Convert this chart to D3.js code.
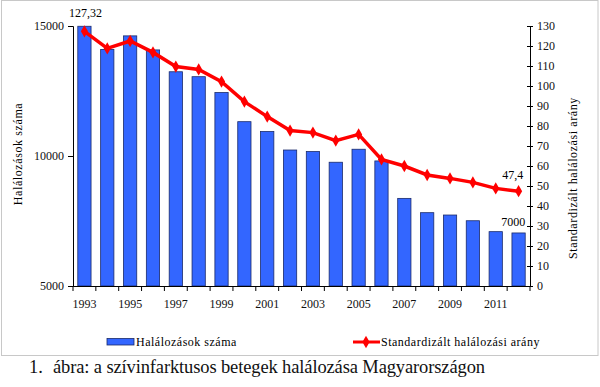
<!DOCTYPE html>
<html>
<head>
<meta charset="utf-8">
<script src="https://cdn.jsdelivr.net/npm/d3@7"></script>
<style>
  body { margin: 0; background: #fff; }
  svg text { font-family: "Liberation Serif", "Times New Roman", serif; }
</style>
</head>
<body>
<script>
// years and values
const years = d3.range(1993, 2013);
const deaths = [14990, 14100, 14620, 14080, 13240, 13050, 12440, 11320, 10940, 10230,
                10170, 9760, 10260, 9810, 8370, 7820, 7730, 7510, 7090, 7040];
const rate = [127.32, 118.8, 122.5, 116.8, 109.7, 108.3, 102.2, 92.2, 84.7, 77.7,
              76.7, 72.7, 75.8, 63.3, 60.0, 55.5, 53.8, 51.8, 48.8, 47.4];
const leftTicks = [5000, 10000, 15000];
const rightTicks = d3.range(0, 131, 10);
const yearLabels = years.filter(y => y % 2 === 1);

const width = 600, height = 387;
const svg = d3.select('body').append('svg')
    .attr('width', width)
    .attr('height', height);

// chart frame
svg.append('rect')
    .attr('x', 1.5).attr('y', 0.5)
    .attr('width', 596.5).attr('height', 355)
    .attr('fill', 'none')
    .attr('stroke', '#c8c8c8');

const plotL = 73, plotR = 530, plotT = 26, plotB = 286;

const x = d3.scaleBand()
    .domain(years)
    .range([plotL, plotR])
    .paddingInner(0.42)
    .paddingOuter(0.21);

const yL = d3.scaleLinear().domain([5000, 15000]).range([plotB, plotT]);
const yR = d3.scaleLinear().domain([0, 130]).range([plotB, plotT]);

// bars
svg.append('g')
    .selectAll('rect')
    .data(years)
    .enter().append('rect')
    .attr('x', d => x(d))
    .attr('y', (d, i) => yL(deaths[i]))
    .attr('width', x.bandwidth())
    .attr('height', (d, i) => plotB - yL(deaths[i]))
    .attr('fill', '#3366ff')
    .attr('stroke', '#1a2a6a')
    .attr('stroke-width', 0.8);

// left axis
const axL = svg.append('g')
    .attr('transform', `translate(${plotL},0)`)
    .call(d3.axisLeft(yL).tickValues(leftTicks).tickSize(5).tickPadding(4).tickFormat(d3.format('d')));
axL.selectAll('text').attr('font-size', 12).attr('fill', '#111');

// right axis, ticks cross the line
const axR = svg.append('g')
    .attr('transform', `translate(${plotR},0)`)
    .call(d3.axisRight(yR).tickValues(rightTicks).tickSize(3).tickPadding(4));
axR.selectAll('.tick line').attr('x1', -3);
axR.selectAll('text').attr('font-size', 12).attr('fill', '#111');

// bottom axis with ticks between bars
const step = x.step();
const edge0 = x(years[0]) - (step - x.bandwidth()) / 2;
const xAxisG = svg.append('g');
xAxisG.append('line')
    .attr('x1', plotL).attr('x2', plotR)
    .attr('y1', plotB + 0.5).attr('y2', plotB + 0.5)
    .attr('stroke', '#000');
xAxisG.selectAll('line.tk')
    .data(d3.range(years.length + 1))
    .enter().append('line')
    .attr('class', 'tk')
    .attr('x1', i => edge0 + i * step)
    .attr('x2', i => edge0 + i * step)
    .attr('y1', plotB)
    .attr('y2', plotB + 5)
    .attr('stroke', '#000');
xAxisG.selectAll('text')
    .data(yearLabels)
    .enter().append('text')
    .attr('x', d => x(d) + x.bandwidth() / 2)
    .attr('y', 308)
    .attr('text-anchor', 'middle')
    .attr('font-size', 12)
    .attr('fill', '#111')
    .text(d => d);

// rate line
const line = d3.line()
    .x((d, i) => x(years[i]) + x.bandwidth() / 2)
    .y(d => yR(d));
svg.append('path')
    .datum(rate)
    .attr('d', line)
    .attr('fill', 'none')
    .attr('stroke', '#ff0000')
    .attr('stroke-width', 3.5);

const diamond = d3.symbol().type(d3.symbolDiamond).size(44);
svg.append('g')
    .selectAll('path')
    .data(rate)
    .enter().append('path')
    .attr('d', diamond)
    .attr('transform', (d, i) => `translate(${x(years[i]) + x.bandwidth() / 2},${yR(d)})`)
    .attr('fill', '#ff0000');

// value labels
const lastX = x(years[years.length - 1]) + x.bandwidth();
svg.append('text')
    .attr('x', x(years[0]) + x.bandwidth() / 2 + 1)
    .attr('y', 17)
    .attr('text-anchor', 'middle')
    .attr('font-size', 12)
    .text('127,32');
svg.append('text')
    .attr('x', lastX - 2)
    .attr('y', 179)
    .attr('text-anchor', 'end')
    .attr('font-size', 12)
    .text('47,4');
svg.append('text')
    .attr('x', lastX)
    .attr('y', 226)
    .attr('text-anchor', 'end')
    .attr('font-size', 12)
    .text('7000');

// axis titles
svg.append('text')
    .attr('transform', 'translate(22,154) rotate(-90)')
    .attr('text-anchor', 'middle')
    .attr('font-size', 12)
    .attr('letter-spacing', 0.6)
    .text('Halálozások száma');
svg.append('text')
    .attr('transform', 'translate(577,178) rotate(-90)')
    .attr('text-anchor', 'middle')
    .attr('font-size', 12)
    .attr('letter-spacing', 0.6)
    .text('Standardizált halálozási arány');

// legend
const lg = svg.append('g');
lg.append('rect')
    .attr('x', 107).attr('y', 338.5)
    .attr('width', 27).attr('height', 6.5)
    .attr('fill', '#3366ff')
    .attr('stroke', '#1a2a6a')
    .attr('stroke-width', 0.8);
lg.append('text')
    .attr('x', 136).attr('y', 346)
    .attr('font-size', 12)
    .attr('letter-spacing', 0.5)
    .text('Halálozások száma');
lg.append('line')
    .attr('x1', 353).attr('x2', 380)
    .attr('y1', 342).attr('y2', 342)
    .attr('stroke', '#ff0000')
    .attr('stroke-width', 3);
lg.append('path')
    .attr('d', diamond)
    .attr('transform', 'translate(366,342)')
    .attr('fill', '#ff0000');
lg.append('text')
    .attr('x', 381).attr('y', 346)
    .attr('font-size', 12)
    .attr('letter-spacing', 0.5)
    .text('Standardizált halálozási arány');

// caption
svg.append('text')
    .attr('x', 29).attr('y', 373)
    .attr('font-size', 18.5)
    .attr('fill', '#111')
    .text('1.');
svg.append('text')
    .attr('x', 53).attr('y', 373)
    .attr('font-size', 18.5)
    .attr('fill', '#111')
    .attr('textLength', 432)
    .attr('lengthAdjust', 'spacing')
    .text('ábra: a szívinfarktusos betegek halálozása Magyarországon');
</script>
</body>
</html>
